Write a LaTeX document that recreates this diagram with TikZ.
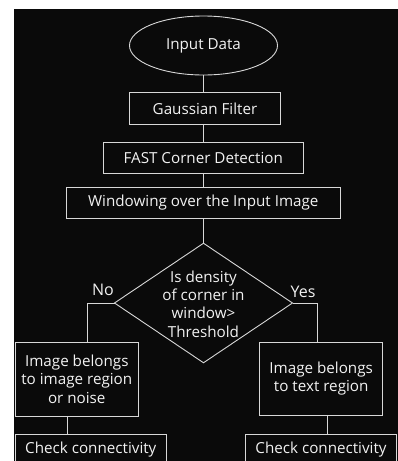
\documentclass[tikz,border=0pt]{standalone}
\usepackage{fontspec}
\setmainfont{Open Sans}
\usetikzlibrary{shapes.geometric}
\definecolor{bgc}{HTML}{0A0A0A}
\definecolor{lnc}{HTML}{D8D8D8}
\definecolor{txc}{HTML}{F2F2F2}
\begin{document}
\begin{tikzpicture}[x=1pt,y=-1pt,
  every node/.style={inner sep=0pt,outer sep=0pt,text=txc,font=\fontsize{15.2}{18.3}\selectfont,align=center},
  boxn/.style={draw=lnc,line width=0.9pt,rectangle},
  conn/.style={draw=lnc,line width=0.9pt},
  lbl/.style={font=\fontsize{16}{18}\selectfont}]
\useasboundingbox (0,0) rectangle (398,461);
\fill[white] (0,0) rectangle (398,461);
\fill[bgc] (14,9) rectangle (398,461);
\begin{scope}
\clip (14,9) rectangle (398,461);
\node[draw=lnc,line width=0.9pt,ellipse,minimum width=148pt,minimum height=59pt] (in) at (203.5,45.5) {Input Data};
\node[boxn,minimum width=151.4pt,minimum height=31.3pt] (g) at (205,108.3) {Gaussian Filter};
\node[boxn,minimum width=200pt,minimum height=30.6pt] (f) at (203.3,158) {FAST Corner Detection};
\node[boxn,minimum width=274.7pt,minimum height=31pt] (w) at (203.3,202.8) {Windowing over the Input Image};
\node[draw=lnc,line width=0.9pt,diamond,minimum width=178pt,minimum height=119.5pt] (d) at (203.5,303) {};
\node (dt) at (203.5,304) {Is density\\of corner in\\window>\\Threshold};
\node[boxn,minimum width=123pt,minimum height=73.7pt] (l1) at (76.8,379.2) {Image belongs\\to image region\\or noise};
\node[boxn,minimum width=123pt,minimum height=72.7pt] (r1) at (321.2,378.7) {Image belongs\\to text region};
\node[boxn,minimum width=151pt,minimum height=30pt] (l2) at (90.8,449.3) {Check connectivity};
\node[boxn,minimum width=150.6pt,minimum height=30pt] (r2) at (321,449.3) {Check connectivity};
\node[lbl] (no) at (103,290) {No};
\node[lbl] (yes) at (303,292) {Yes};
\coordinate (nl) at (87.5,303);
\coordinate (yr) at (317.3,303);
\coordinate (lc) at (67,0);
\coordinate (rc) at (327,0);
\draw[conn] (in.south) -- (in.south |- g.north);
\draw[conn] (g.south -| in.south) -- (in.south |- f.north);
\draw[conn] (f.south -| in.south) -- (in.south |- w.north);
\draw[conn] (w.south -| d.north) -- (d.north);
\draw[conn] (d.west) -- (nl) -- (nl |- l1.north);
\draw[conn] (d.east) -- (yr) -- (yr |- r1.north);
\draw[conn] (l1.south -| lc) -- (l2.north -| lc);
\draw[conn] (r1.south -| rc) -- (r2.north -| rc);
\end{scope}
\end{tikzpicture}
\end{document}
